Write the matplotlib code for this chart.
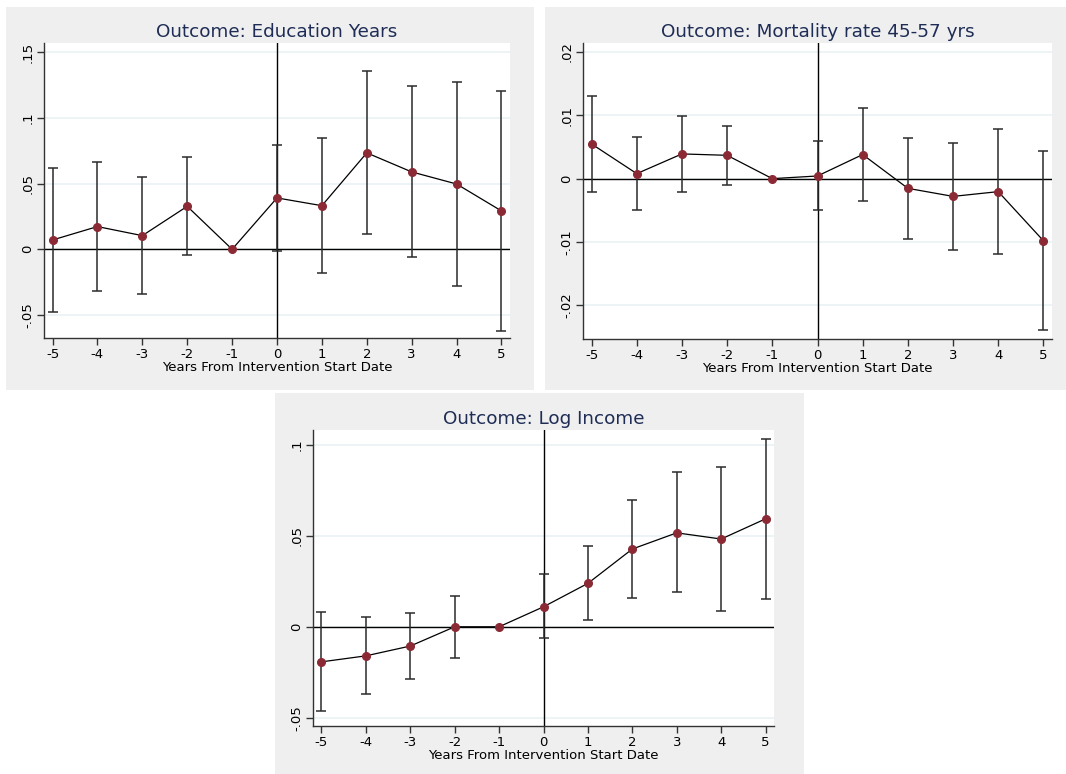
import matplotlib.pyplot as plt
from matplotlib.patches import Rectangle

years = [-5, -4, -3, -2, -1, 0, 1, 2, 3, 4, 5]

# Education years
edu_b = [0.0071, 0.0173, 0.0104, 0.0327, 0.0, 0.0391, 0.0332, 0.0734, 0.0589, 0.0497, 0.0292]
edu_hi = [0.0617, 0.0662, 0.0551, 0.0700, None, 0.0794, 0.0850, 0.1358, 0.1239, 0.1272, 0.1203]
edu_lo = [-0.0475, -0.0315, -0.0343, -0.0043, None, -0.0010, -0.0180, 0.0114, -0.0061, -0.0277, -0.0619]

# Mortality rate 45-57
mort_b = [0.00547, 0.00079, 0.0039, 0.00368, 0.0, 0.00042, 0.0038, -0.00153, -0.0028, -0.00205, -0.0098]
mort_hi = [0.0131, 0.00658, 0.0099, 0.00837, None, 0.0059, 0.0111, 0.0064, 0.0057, 0.0078, 0.0043]
mort_lo = [-0.00216, -0.0050, -0.0021, -0.00095, None, -0.0050, -0.0036, -0.0095, -0.0112, -0.0119, -0.0239]

# Log income
inc_b = [-0.0193, -0.0160, -0.0106, 0.0, 0.0, 0.0110, 0.0239, 0.0428, 0.0517, 0.0483, 0.0594]
inc_hi = [0.0079, 0.0053, 0.0075, 0.0171, None, 0.0288, 0.0442, 0.0699, 0.0850, 0.0879, 0.1035]
inc_lo = [-0.0462, -0.0372, -0.0286, -0.0171, None, -0.0064, 0.0039, 0.0156, 0.0189, 0.0088, 0.0152]

W, H = 1066, 774
fig = plt.figure(figsize=(W / 100, H / 100), dpi=100)
fig.patch.set_facecolor("white")

bg = "#efefef"
navy = "#1f2d56"
maroon = "#8b2a35"


def fx(px):
    return px / W


def fy(py):
    return 1 - py / H


def panel(box, axbox, title, b, hi, lo, ylim, yticks, ylabels):
    x0, y0, x1, y1 = box
    fig.patches.append(Rectangle((fx(x0), fy(y1)), fx(x1 - x0), (y1 - y0) / H,
                                 transform=fig.transFigure, facecolor=bg,
                                 edgecolor="none", zorder=-5))
    l, t, r, bt = axbox
    ax = fig.add_axes([fx(l), fy(bt), fx(r - l), (bt - t) / H])
    ax.set_facecolor("white")
    for yt in yticks:
        ax.axhline(yt, color="#eaf2f3", lw=1.2, zorder=1)
    ax.axhline(0, color="black", lw=1, zorder=2)
    ax.axvline(0, color="black", lw=1, zorder=2)
    for x, h, lw_ in zip(years, hi, lo):
        if h is None:
            continue
        ax.errorbar([x], [(h + lw_) / 2], yerr=[[(h - lw_) / 2], [(h - lw_) / 2]],
                    fmt="none", ecolor="#2b2b2b", elinewidth=1.1, capsize=3.5,
                    capthick=1.1, zorder=3)
    ax.plot(years, b, color="black", lw=0.9, zorder=4)
    ax.plot(years, b, "o", color=maroon, markersize=5.5, zorder=5)
    ax.set_xlim(-5.19, 5.19)
    ax.set_ylim(*ylim)
    ax.set_xticks(years)
    ax.set_xticklabels([str(y) for y in years])
    ax.set_yticks(yticks)
    ax.set_yticklabels(ylabels, rotation=90, va="center")
    ax.tick_params(axis="both", direction="out", length=5, width=1,
                   color="#333333", labelsize=9.5, pad=2)
    for s in ["top", "right"]:
        ax.spines[s].set_visible(False)
    for s in ["left", "bottom"]:
        ax.spines[s].set_color("#333333")
        ax.spines[s].set_linewidth(1)
    ax.set_xlabel("Years From Intervention Start Date", fontsize=9.5, labelpad=0)
    ax.set_title(title, color=navy, fontsize=13.2, pad=4)
    return ax


panel((6, 7, 534, 390), (44, 43, 510, 338), "Outcome: Education Years",
      edu_b, edu_hi, edu_lo, (-0.0675, 0.157),
      [-0.05, 0, 0.05, 0.1, 0.15], ["-.05", "0", ".05", ".1", ".15"])

panel((545, 7, 1066, 390), (583, 43, 1052, 339), "Outcome: Mortality rate 45-57 yrs",
      mort_b, mort_hi, mort_lo, (-0.0253, 0.0214),
      [-0.02, -0.01, 0, 0.01, 0.02], ["-.02", "-.01", "0", ".01", ".02"])

panel((275, 393, 804, 774), (313, 430, 774, 726), "Outcome: Log Income",
      inc_b, inc_hi, inc_lo, (-0.0546, 0.1083),
      [-0.05, 0, 0.05, 0.1], ["-.05", "0", ".05", ".1"])

fig.savefig("out.png", dpi=100)
